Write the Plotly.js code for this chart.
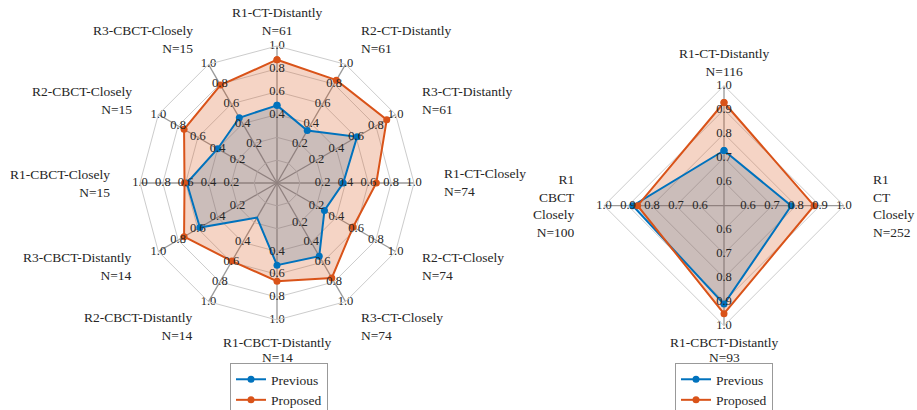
<!DOCTYPE html>
<html>
<head>
<meta charset="utf-8">
<script src="https://cdn.plot.ly/plotly-3.0.1.min.js"></script>
<style>html,body{margin:0;padding:0;background:#fff;}#chart{width:917px;height:410px;}</style>
</head>
<body>
<div id="chart"></div>
<script>
// ---- Left radar (12 axes) ----
const catsL = ['R1-CT-Distantly','R2-CT-Distantly','R3-CT-Distantly','R1-CT-Closely','R2-CT-Closely','R3-CT-Closely','R1-CBCT-Distantly','R2-CBCT-Distantly','R3-CBCT-Distantly','R1-CBCT-Closely','R2-CBCT-Closely','R3-CBCT-Closely'];
const nL = [61, 61, 61, 74, 74, 74, 14, 14, 14, 15, 15, 15];
const prevL = [0.48, 0.33, 0.61, 0.38, 0.28, 0.54, 0.52, 0.15, 0.58, 0.59, 0.40, 0.46];
const propL = [0.88, 0.84, 0.91, 0.67, 0.57, 0.76, 0.66, 0.59, 0.74, 0.61, 0.74, 0.79];
const ticksL = [0.0, 0.2, 0.4, 0.6, 0.8, 1.0];
const tickTextL = ['0.0', '0.2', '0.4', '0.6', '0.8', '1.0'];

// ---- Right radar (4 axes) ----
const catsR = ['R1-CT-Distantly', 'R1 CT Closely', 'R1-CBCT-Distantly', 'R1 CBCT Closely'];
const labelsR = ['R1-CT-Distantly', 'R1<br>CT<br>Closely', 'R1-CBCT-Distantly', 'R1<br>CBCT<br>Closely'];
const nR = [116, 252, 93, 100];
const prevR = [0.73, 0.78, 0.91, 0.88];
const propR = [0.93, 0.875, 0.95, 0.86];
const ticksR = [0.6, 0.7, 0.8, 0.9, 1.0];
const tickTextR = ['0.6', '0.7', '0.8', '0.9', '1.0'];

const W = 917, H = 410;
const BLUE = '#0072BD', ORANGE = '#D95319';
const FONT = 'Liberation Serif, Times New Roman, serif';
const TXT = '#262626';
const close = a => a.concat([a[0]]);

// polar geometry (pixels): centre and outer radius
const geomL = {cx:277, cy:183, R:137};
const geomR = {cx:724, cy:205.7, R:120};

function radarTraces(sub, cats, prev, prop, ticks, tickText, legendId) {
  const tr = [];
  tr.push({type:'scatterpolar', subplot:sub, r:close(prev), theta:close(cats), mode:'none',
    fill:'toself', fillcolor:'rgba(0,114,189,0.22)', showlegend:false, hoverinfo:'skip'});
  tr.push({type:'scatterpolar', subplot:sub, r:close(prop), theta:close(cats), mode:'none',
    fill:'toself', fillcolor:'rgba(217,83,25,0.25)', showlegend:false, hoverinfo:'skip'});
  tr.push({type:'scatterpolar', subplot:sub, r:close(prev), theta:close(cats), mode:'lines+markers',
    name:'Previous', line:{color:BLUE, width:2}, marker:{color:BLUE, size:7}, legend:legendId});
  tr.push({type:'scatterpolar', subplot:sub, r:close(prop), theta:close(cats), mode:'lines+markers',
    name:'Proposed', line:{color:ORANGE, width:2}, marker:{color:ORANGE, size:7}, legend:legendId});
  // tick labels along every spoke (first tick in a clipped trace so the centre ones stay visible)
  [[0, 1, true], [1, ticks.length, false]].forEach(([a, b, clip]) => {
    const rr = [], tt = [], ss = [];
    cats.forEach(c => { for (let k = a; k < b; k++) { rr.push(ticks[k]); tt.push(c); ss.push(tickText[k]); } });
    tr.push({type:'scatterpolar', subplot:sub, r:rr, theta:tt, text:ss, mode:'text',
      textposition:'middle center', textfont:{family:FONT, size:12.5, color:TXT},
      showlegend:false, hoverinfo:'skip', cliponaxis:clip});
  });
  return tr;
}

function labelAnnots(g, labels, ns, rs) {
  const n = labels.length, out = [];
  const base = {xref:'paper', yref:'paper', showarrow:false, borderpad:0,
    font:{family:FONT, size:13.5, color:TXT}};
  labels.forEach((lab, i) => {
    const ang = (90 - 360 * i / n) * Math.PI / 180;
    const cs = Math.cos(ang), sn = Math.sin(ang);
    const text = lab + '<br>N=' + ns[i];
    if (Math.abs(cs) > 0.01) {
      const r = rs.side, px = g.cx + r * cs, py = g.cy - r * sn;
      const left = cs > 0;
      out.push(Object.assign({x:px / W, y:1 - py / H, xanchor:left ? 'left' : 'right',
        yanchor:'middle', align:left ? 'left' : 'right', text:text}, base));
    } else if (sn > 0) {
      const py = g.cy - rs.top;
      out.push(Object.assign({x:g.cx / W, y:1 - py / H, xanchor:'center', yanchor:'bottom',
        align:'center', text:text}, base));
    } else {
      // bottom label: one annotation per line, tighter spacing
      text.split('<br>').forEach((line, k) => {
        const py = g.cy + rs.bottom + k * 15;
        out.push(Object.assign({x:g.cx / W, y:1 - py / H, xanchor:'center', yanchor:'middle',
          align:'center', text:line}, base));
      });
    }
  });
  return out;
}

const data = [].concat(
  radarTraces('polar', catsL, prevL, propL, ticksL, tickTextL, 'legend'),
  radarTraces('polar2', catsR, prevR, propR, ticksR, tickTextR, 'legend2')
);

function polarLayout(g, range, ticks, cats) {
  return {
    domain:{x:[(g.cx - g.R) / W, (g.cx + g.R) / W], y:[1 - (g.cy + g.R) / H, 1 - (g.cy - g.R) / H]},
    gridshape:'linear', bgcolor:'rgba(0,0,0,0)',
    radialaxis:{range:range, tickvals:ticks, showticklabels:false, ticks:'', showline:false,
      gridcolor:'#cccccc', gridwidth:1, angle:90},
    angularaxis:{type:'category', categoryarray:cats, direction:'clockwise', rotation:90,
      showticklabels:false, ticks:'', showgrid:true, gridcolor:'#9a9a9a', gridwidth:1.3,
      showline:true, linecolor:'#cccccc', linewidth:1}
  };
}

const legendStyle = {xanchor:'left', yanchor:'top', bgcolor:'#ffffff',
  bordercolor:'#999999', borderwidth:1, font:{family:FONT, size:13.5, color:TXT},
  tracegroupgap:0, itemwidth:30};

const layout = {
  width:W, height:H, margin:{l:0, r:0, t:0, b:0, autoexpand:false},
  paper_bgcolor:'#ffffff', plot_bgcolor:'#ffffff', showlegend:true,
  font:{family:FONT, size:13.5, color:TXT},
  polar: polarLayout(geomL, [-0.2, 1.0], ticksL, catsL),
  polar2: polarLayout(geomR, [0.5, 1.0], ticksR, catsR),
  legend: Object.assign({x:230 / W, y:1 - 363 / H}, legendStyle),
  legend2: Object.assign({x:675 / W, y:1 - 363 / H}, legendStyle),
  annotations: [].concat(
    labelAnnots(geomL, catsL, nL, {side:166, top:144, bottom:159}),
    labelAnnots(geomR, labelsR, nR, {side:148, top:126, bottom:137})
  )
};

Plotly.newPlot('chart', data, layout, {displayModeBar:false, staticPlot:true});
</script>
</body>
</html>
